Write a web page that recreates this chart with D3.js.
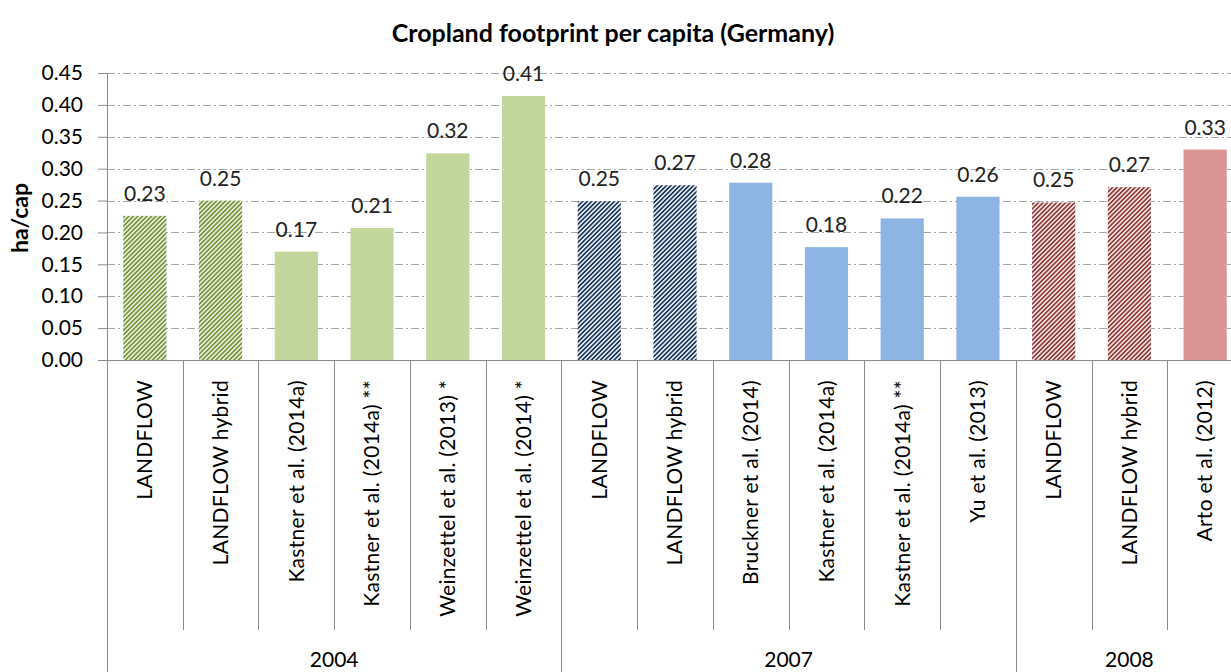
<!DOCTYPE html>
<html>
<head>
<meta charset="utf-8">
<script src="https://cdn.jsdelivr.net/npm/d3@7"></script>
<style>
  body { margin: 0; background: #fff; }
  svg { display: block; font-family: Lato, "Open Sans", sans-serif; }
</style>
</head>
<body>
<div id="chart"></div>
<script>
// data
const categories = [
  "LANDFLOW", "LANDFLOW hybrid", "Kastner et al. (2014a)", "Kastner et al. (2014a) **",
  "Weinzettel et al. (2013) *", "Weinzettel et al. (2014) *",
  "LANDFLOW", "LANDFLOW hybrid", "Bruckner et al. (2014)", "Kastner et al. (2014a)",
  "Kastner et al. (2014a) **", "Yu et al. (2013)",
  "LANDFLOW", "LANDFLOW hybrid", "Arto et al. (2012)"
];
const years = ["2004", "2004", "2004", "2004", "2004", "2004",
               "2007", "2007", "2007", "2007", "2007", "2007",
               "2008", "2008", "2008"];
const values = [0.226, 0.250, 0.170, 0.207, 0.324, 0.414,
                0.249, 0.274, 0.278, 0.177, 0.222, 0.256,
                0.247, 0.271, 0.330];
const yTicks = [0, 0.05, 0.10, 0.15, 0.20, 0.25, 0.30, 0.35, 0.40, 0.45];
const yearList = ["2004", "2007", "2008"];

const width = 1231, height = 672;
const plotLeft = 107, plotRight = 1243; // plot runs past the right edge, like the original
const plotTop = 73, plotBottom = 360;

const svg = d3.select("#chart").append("svg")
  .attr("width", width).attr("height", height);

// colours per year: [hatch line, hatch background, solid]
const palette = {
  "2004": ["#789340", "#e6eed6", "#c3d69b"],
  "2007": ["#1c3557", "#e4ebf4", "#8db4e2"],
  "2008": ["#8e3a39", "#f3e0df", "#d99694"]
};

const defs = svg.append("defs");
yearList.forEach(function(yr) {
  const p = defs.append("pattern")
    .attr("id", "hatch" + yr)
    .attr("patternUnits", "userSpaceOnUse")
    .attr("width", 3.2).attr("height", 3.2)
    .attr("patternTransform", "rotate(45)");
  p.append("rect").attr("width", 3.2).attr("height", 3.2).attr("fill", palette[yr][1]);
  p.append("line").attr("x1", 0.8).attr("x2", 0.8).attr("y1", 0).attr("y2", 3.2)
    .attr("stroke", palette[yr][0]).attr("stroke-width", 1.6);
});

const idx = d3.range(categories.length);
const x = d3.scaleBand().domain(idx).range([plotLeft, plotRight])
  .paddingInner(0.43).paddingOuter(0.215);
const step = x.step();
const y = d3.scaleLinear().domain([0, 0.45]).range([plotBottom, plotTop]);

// title
svg.append("text")
  .attr("x", 613).attr("y", 42)
  .attr("text-anchor", "middle")
  .attr("font-size", "25px").attr("font-weight", "bold")
  .attr("fill", "#000")
  .text("Cropland footprint per capita (Germany)");

// y label
svg.append("text")
  .attr("transform", "translate(28,218) rotate(-90)")
  .attr("text-anchor", "middle")
  .attr("font-size", "23px").attr("font-weight", "bold")
  .text("ha/cap");

// gridlines
svg.append("g").selectAll("line")
  .data(yTicks.filter(d => d > 0))
  .enter().append("line")
  .attr("x1", plotLeft).attr("x2", plotRight)
  .attr("y1", d => Math.round(y(d)) + 0.5).attr("y2", d => Math.round(y(d)) + 0.5)
  .attr("stroke", "#a8a8a8").attr("stroke-width", 1)
  .attr("stroke-dasharray", "8,3,2,3");

// y axis
const yAxis = svg.append("g")
  .attr("transform", "translate(" + plotLeft + ",0)")
  .call(d3.axisLeft(y).tickValues(yTicks).tickFormat(d3.format(".2f"))
    .tickSize(9).tickPadding(15));
yAxis.select(".domain").attr("stroke", "#8c8c8c");
yAxis.selectAll(".tick line").attr("stroke", "#8c8c8c");
yAxis.selectAll(".tick text").attr("font-size", "21px").attr("fill", "#000")
  .attr("font-family", "Lato, sans-serif");

// bars
svg.append("g").selectAll("rect")
  .data(idx)
  .enter().append("rect")
  .attr("x", i => x(i))
  .attr("width", x.bandwidth())
  .attr("y", i => y(values[i]))
  .attr("height", i => y(0) - y(values[i]))
  .attr("fill", function(i) {
    return categories[i].indexOf("LANDFLOW") === 0 ? "url(#hatch" + years[i] + ")" : palette[years[i]][2];
  });

// value labels
svg.append("g").selectAll("text")
  .data(idx)
  .enter().append("text")
  .attr("x", i => x(i) + x.bandwidth() / 2)
  .attr("y", i => y(values[i]) - 15)
  .attr("text-anchor", "middle")
  .attr("font-size", "21px").attr("fill", "#222")
  .text(i => d3.format(".2f")(values[i]));

// category axis line
svg.append("line")
  .attr("x1", plotLeft).attr("x2", plotRight).attr("y1", plotBottom + 0.5).attr("y2", plotBottom + 0.5)
  .attr("stroke", "#8c8c8c");

// dividers between categories, longer between years
const bounds = d3.range(categories.length + 1);
svg.append("g").selectAll("line")
  .data(bounds)
  .enter().append("line")
  .attr("x1", b => Math.round(plotLeft + b * step) + 0.5)
  .attr("x2", b => Math.round(plotLeft + b * step) + 0.5)
  .attr("y1", plotBottom)
  .attr("y2", function(b) {
    const yearEdge = b === 0 || b === categories.length || years[b] !== years[b - 1];
    return yearEdge ? height : 630;
  })
  .attr("stroke", "#8c8c8c");

// category labels
svg.append("g").selectAll("text")
  .data(idx)
  .enter().append("text")
  .attr("transform", i => "translate(" + (x(i) + x.bandwidth() / 2) + ",380) rotate(-90)")
  .attr("text-anchor", "end")
  .attr("dy", "0.35em")
  .attr("font-size", "21px").attr("letter-spacing", "0.3px").attr("fill", "#000")
  .text(i => categories[i]);

// year labels
yearList.forEach(function(yr) {
  const members = idx.filter(i => years[i] === yr);
  const x0 = plotLeft + d3.min(members) * step;
  const x1 = Math.min(plotLeft + (d3.max(members) + 1) * step, width + 20);
  svg.append("text")
    .attr("x", (x0 + x1) / 2).attr("y", 667)
    .attr("text-anchor", "middle")
    .attr("font-size", "21px").attr("fill", "#000")
    .text(yr);
});
</script>
</body>
</html>
